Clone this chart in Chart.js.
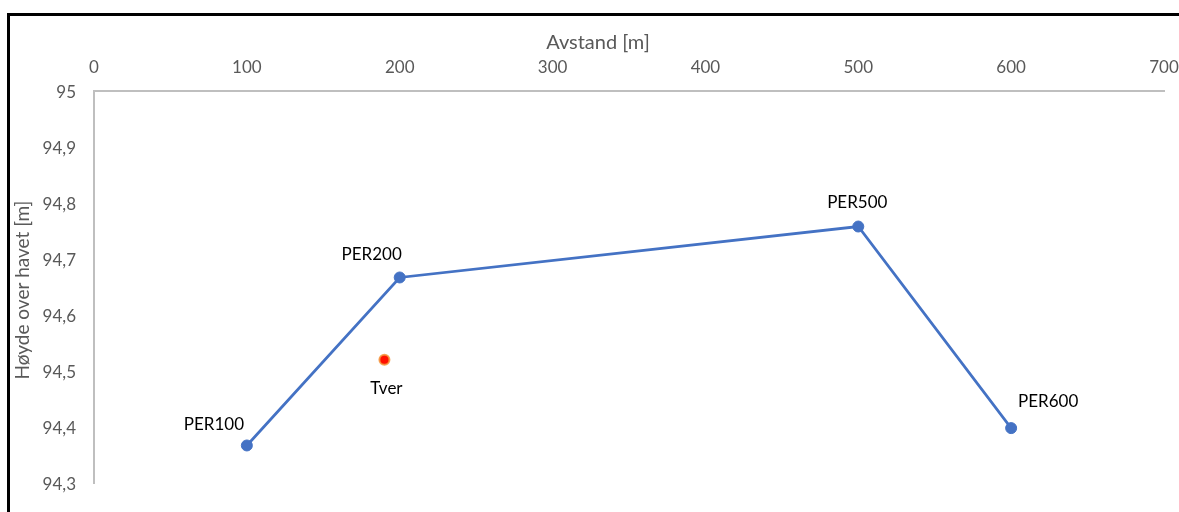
<!DOCTYPE html>
<html>
<head>
<meta charset="utf-8">
<script src="https://cdn.jsdelivr.net/npm/chart.js@4/dist/chart.umd.min.js"></script>
<style>
  html, body { margin: 0; padding: 0; background: #fff; }
  #wrap { position: relative; width: 1179px; height: 512px; overflow: hidden; }
  #frame { position: absolute; left: 7px; top: 13px; width: 1300px; height: 600px;
           border-top: 3px solid #000; border-left: 3px solid #000; box-sizing: border-box; pointer-events: none; }
  canvas { position: absolute; left: 0; top: 0; }
</style>
</head>
<body>
<div id="wrap">
  <canvas id="c" width="1179" height="512"></canvas>
  <div id="frame"></div>
</div>
<script>
// ---- data ----
const pointNames = ['PER100', 'PER200', 'PER500', 'PER600'];
const distances  = [100, 200, 500, 600];
const heights    = [94.367, 94.667, 94.758, 94.398];

const tverName     = ['Tver'];
const tverDistance = [190];
const tverHeight   = [94.52];

const xTickValues = [0, 100, 200, 300, 400, 500, 600, 700];
const yTickValues = [94.3, 94.4, 94.5, 94.6, 94.7, 94.8, 94.9, 95];

const xTitle = 'Avstand [m]';
const yTitle = 'Høyde over havet [m]';

// ---- styles ----
const FONT = 'Lato';
const labelOffsets = [[-33, -22], [-28, -24], [-1, -25], [37, -27]];
const tverOffset = [[2, 28]];

const fmt = v => {
  const r = Math.round(v * 10) / 10;
  return String(r).replace('.', ',');
};

const labelPlugin = {
  id: 'customLabels',
  afterDatasetsDraw(chart) {
    const ctx = chart.ctx;
    ctx.save();
    ctx.font = '17px ' + FONT;
    ctx.fillStyle = '#000';
    ctx.textAlign = 'center';
    ctx.textBaseline = 'alphabetic';
    const cap = 17 * 0.36;
    const m0 = chart.getDatasetMeta(0);
    m0.data.forEach((el, i) => {
      const o = labelOffsets[i];
      ctx.fillText(pointNames[i], el.x + o[0], el.y + o[1] + cap);
    });
    const m1 = chart.getDatasetMeta(1);
    m1.data.forEach((el, i) => {
      const o = tverOffset[i];
      ctx.fillText(tverName[i], el.x + o[0], el.y + o[1] + cap);
    });
    // axis titles
    ctx.fillStyle = '#595959';
    ctx.font = '20px ' + FONT;
    ctx.fillText(xTitle, 598, 41.5 + 20 * 0.36);
    ctx.translate(22.5 + 19 * 0.36, 290);
    ctx.rotate(-Math.PI / 2);
    ctx.font = '19px ' + FONT;
    ctx.fillText(yTitle, 0, 0);
    ctx.restore();
  }
};

new Chart(document.getElementById('c'), {
  type: 'scatter',
  data: {
    datasets: [
      {
        data: distances.map((x, i) => ({ x, y: heights[i] })),
        showLine: true,
        borderColor: '#4472C4',
        borderWidth: 2.75,
        backgroundColor: '#4472C4',
        pointBackgroundColor: '#4472C4',
        pointBorderColor: '#4472C4',
        pointBorderWidth: 1,
        pointRadius: 5.5,
        tension: 0
      },
      {
        data: tverDistance.map((x, i) => ({ x, y: tverHeight[i] })),
        showLine: false,
        pointBackgroundColor: '#FF1000',
        pointBorderColor: 'rgba(245,150,60,0.85)',
        pointBorderWidth: 2,
        pointRadius: 5
      }
    ]
  },
  options: {
    responsive: false,
    animation: false,
    events: [],
    layout: { padding: { left: 0, top: 0, right: 0, bottom: 29 } },
    plugins: { legend: { display: false }, tooltip: { enabled: false }, title: { display: false } },
    scales: {
      x: {
        type: 'linear',
        position: 'top',
        min: 0, max: 700,
        afterBuildTicks: s => { s.ticks = xTickValues.map(v => ({ value: v })); },
        afterFit: s => { s.height = 91; s.paddingRight = 15; s.paddingLeft = 0; },
        grid: { display: false, drawTicks: false },
        border: { display: true, color: '#BFBFBF', width: 2 },
        ticks: { color: '#595959', font: { family: FONT, size: 17 }, padding: 13, maxRotation: 0,
                 callback: v => String(v) }
      },
      y: {
        type: 'linear',
        position: 'left',
        min: 94.3, max: 95,
        afterBuildTicks: s => { s.ticks = yTickValues.map(v => ({ value: v })); },
        afterFit: s => { s.width = 94; },
        grid: { display: false, drawTicks: false },
        border: { display: true, color: '#BFBFBF', width: 2 },
        ticks: { color: '#595959', font: { family: FONT, size: 17 }, padding: 18, labelOffset: 1.5,
                 callback: v => fmt(v) }
      }
    }
  },
  plugins: [labelPlugin]
});
</script>
</body>
</html>
